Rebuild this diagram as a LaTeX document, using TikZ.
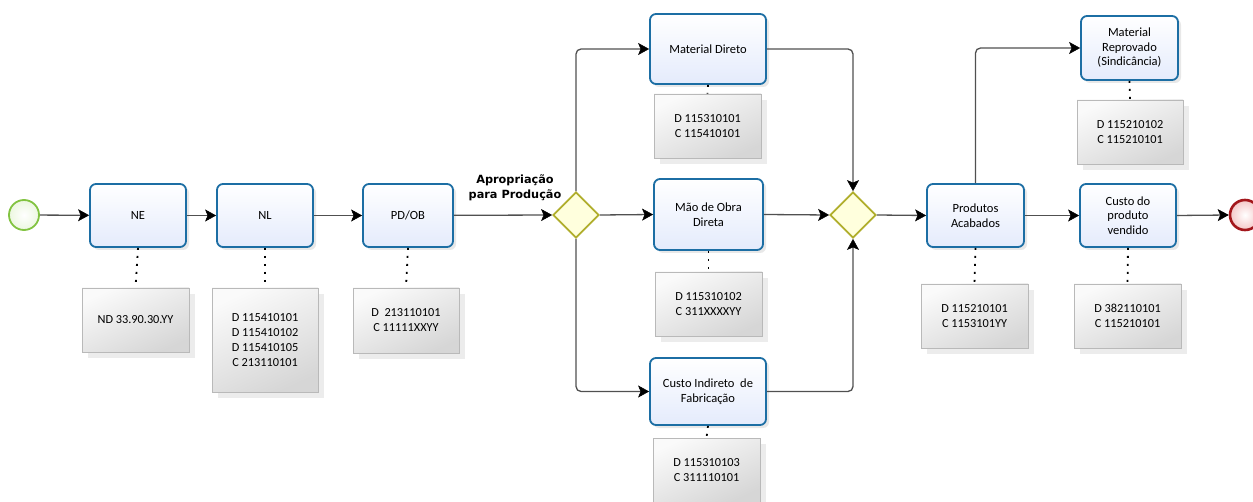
\documentclass[tikz,border=0pt]{standalone}
\usepackage{fontspec}
\setmainfont{Carlito}
\newfontfamily\labfont{DejaVu Sans}
\usetikzlibrary{arrows.meta,shapes.geometric,shadows,calc}
\definecolor{taskblue}{RGB}{28,110,164}
\definecolor{taskfill}{RGB}{228,235,252}
\definecolor{gwline}{RGB}{176,174,44}
\definecolor{gwfill}{RGB}{255,255,221}
\definecolor{flowgray}{RGB}{80,80,80}
\definecolor{startgreen}{RGB}{130,195,65}
\definecolor{startfill}{RGB}{236,247,224}
\definecolor{endred}{RGB}{163,23,28}
\definecolor{endfill}{RGB}{244,200,200}
\begin{document}
\begin{tikzpicture}[x=1pt,y=-1pt,
  task/.style={draw=taskblue, line width=1.8pt, rounded corners=6pt,
    top color=white, bottom color=taskfill, align=center,
    font=\fontsize{12.5}{14.5}\selectfont, inner sep=2pt,
    drop shadow={shadow xshift=3pt, shadow yshift=-3pt, opacity=0.18}},
  anno/.style={draw=gray!55, line width=0.6pt, shading=axis,
    top color=white!96!gray, bottom color=gray!32, shading angle=25,
    align=center, font=\fontsize{12.3}{15}\selectfont, minimum width=107pt,
    drop shadow={shadow xshift=6pt, shadow yshift=-6pt, opacity=0.15}},
  gateway/.style={diamond, aspect=1, draw=gwline, line width=1.8pt, fill=gwfill,
    minimum width=46pt, minimum height=46pt, inner sep=0pt},
  startev/.style={circle, draw=startgreen, line width=1.8pt, inner color=white, outer color=startfill,
    minimum size=30pt, inner sep=0pt},
  endev/.style={circle, draw=endred, line width=2.6pt, inner color=white, outer color=endfill,
    minimum size=30pt, inner sep=0pt},
  flow/.style={draw=flowgray, line width=1.3pt, rounded corners=5pt,
    -{Stealth[length=11pt,width=12pt,inset=2.5pt,color=black,fill=black,line width=0.5pt]}},
  assoc/.style={draw=black, line width=1.8pt, dash pattern=on 2pt off 6pt},
  lab/.style={font=\labfont\bfseries\fontsize{11.3}{15}\selectfont, align=center}
]
\useasboundingbox (0,0) rectangle (1253,502);
\clip (0,0) rectangle (1253,502);
\fill[white] (0,0) rectangle (1253,502);

% events
\node[startev] (start) at (24,215) {};
\node[endev] (end) at (1245,215) {};

% tasks
\node[task, minimum width=96pt, minimum height=63pt] (ne) at (138,215.5) {NE};
\node[task, minimum width=96pt, minimum height=63pt] (nl) at (265,215.5) {NL};
\node[task, minimum width=90pt, minimum height=63pt] (pdob) at (408,215.5) {PD/OB};
\node[task, minimum width=116pt, minimum height=70pt] (md) at (708,49) {Material Direto};
\node[task, minimum width=109pt, minimum height=71pt] (mod) at (708.5,214.5) {Mão de Obra\\Direta};
\node[task, minimum width=116pt, minimum height=67pt] (cif) at (708,391.5) {Custo Indireto\ \ de\\Fabricação};
\node[task, minimum width=97pt, minimum height=63pt] (pa) at (975.5,215.5) {Produtos\\Acabados};
\node[task, minimum width=97pt, minimum height=64pt] (mr) at (1129.5,48) {Material\\Reprovado\\(Sindicância)};
\node[task, minimum width=96pt, minimum height=63pt] (cpv) at (1128,215.5) {Custo do\\produto\\vendido};

% gateways
\node[gateway] (gw1) at (576,215) {};
\node[gateway] (gw2) at (853,215) {};

% label
\node[lab] (aplab) at (515,188) {Apropriação\\para Produção};

% annotations
\node[anno, minimum height=64pt] (nea) at (135.5,320) {ND 33.90.30.YY};
\node[anno, minimum width=106pt, minimum height=104pt] (nla) at (265,340) {D 115410101\\D 115410102\\D 115410105\\C 213110101};
\node[anno, minimum width=106pt, minimum height=65pt] (pdoba) at (406,320.5) {D\ \ 213110101\\C 11111XXYY};
\node[anno, minimum height=64pt] (mda) at (707.5,126) {D 115310101\\C 115410101};
\node[anno, minimum height=64pt] (moda) at (708.5,304) {D 115310102\\C 311XXXXYY};
\node[anno, minimum height=64pt] (cifa) at (706.5,470) {D 115310103\\C 311110101};
\node[anno, minimum height=64pt] (paa) at (974.5,316) {D 115210101\\C 1153101YY};
\node[anno, minimum width=106pt, minimum height=64pt] (mra) at (1130,132) {D 115210102\\C 115210101};
\node[anno, minimum height=64pt] (cpva) at (1127.5,316) {D 382110101\\C 115210101};

% associations
\draw[assoc] (ne.south) -- (nea.north);
\draw[assoc] (nl.south) -- (nla.north);
\draw[assoc] (pdob.south) -- (pdoba.north);
\draw[assoc] (md.south) -- (mda.north);
\draw[assoc] (mod.south) -- (moda.north);
\draw[assoc] (cif.south) -- (cifa.north);
\draw[assoc] (pa.south) -- (paa.north);
\draw[assoc] (mr.south) -- (mra.north);
\draw[assoc] (cpv.south) -- (cpva.north);

% flows
\draw[flow] (start) -- (ne);
\draw[flow] (ne) -- (nl);
\draw[flow] (nl) -- (pdob);
\draw[flow] (pdob) -- (gw1.west);
\draw[flow] (gw1.north) |- (md.west);
\draw[flow] (gw1.east) -- (mod.west);
\draw[flow] (gw1.south) |- (cif.west);
\draw[flow] (md.east) -| (gw2.north);
\draw[flow] (mod.east) -- (gw2.west);
\draw[flow] (cif.east) -| (gw2.south);
\draw[flow] (gw2.east) -- (pa.west);
\draw[flow] (pa.north) |- (mr.west);
\draw[flow] (pa.east) -- (cpv.west);
\draw[flow] (cpv.east) -- (end.west);
\end{tikzpicture}
\end{document}
